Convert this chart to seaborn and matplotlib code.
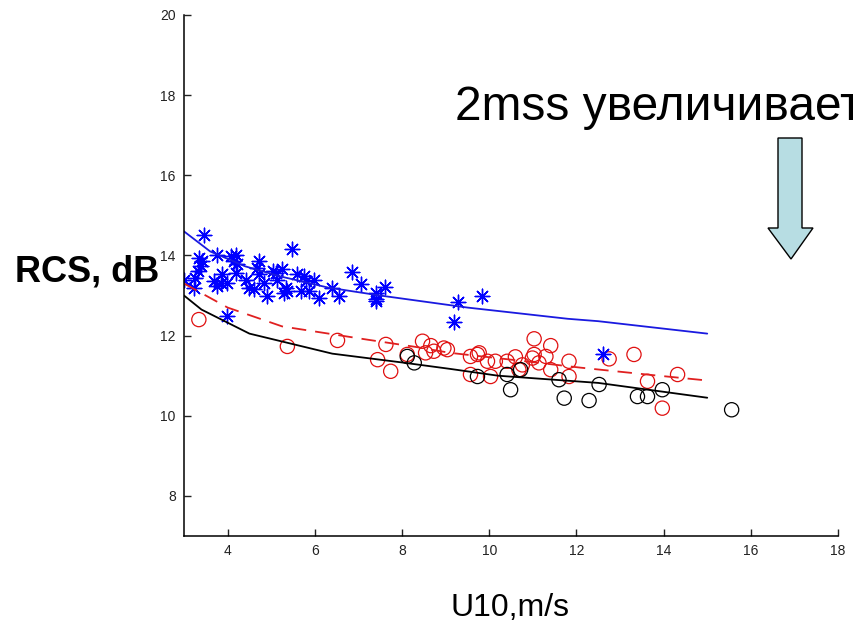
import numpy as np
import pandas as pd
import seaborn as sns
import matplotlib.pyplot as plt
from matplotlib.patches import Polygon

# blue stars (*)
star_x = [3.46, 3.34, 3.42, 3.38, 3.31, 3.25, 3.0, 3.23, 3.76, 4.07, 4.19, 4.15, 4.22, 4.19,
          3.88, 3.69, 3.84, 3.99, 3.76, 4.41, 4.49, 4.6, 4.72, 4.68, 4.72, 4.83, 4.91, 5.03,
          5.1, 5.25, 5.14, 5.33, 5.37, 5.29, 5.48, 5.6, 5.75, 5.79, 5.98, 5.68, 5.87, 6.1,
          6.4, 6.56, 6.86, 7.05, 7.4, 7.4, 7.4, 7.62, 9.29, 9.19, 9.84, 12.6, 3.99]
star_y = [14.5, 13.94, 13.86, 13.73, 13.6, 13.44, 13.4, 13.19, 14.0, 13.98, 14.0, 13.86, 13.78,
          13.57, 13.53, 13.36, 13.32, 13.32, 13.23, 13.4, 13.19, 13.17, 13.86, 13.69, 13.53,
          13.32, 12.98, 13.61, 13.57, 13.65, 13.4, 13.19, 13.11, 13.07, 14.15, 13.53, 13.48,
          13.36, 13.4, 13.11, 13.11, 12.94, 13.19, 12.98, 13.58, 13.28, 12.92, 13.07, 12.86,
          13.22, 12.83, 12.33, 12.98, 11.53, 12.48]

# red circles
red_x = [3.34, 5.37, 6.52, 7.63, 7.44, 7.74, 8.12, 8.47, 8.66, 8.54, 8.73, 8.96, 9.04, 9.57,
         9.73, 9.57, 10.03, 10.14, 11.03, 11.41, 10.6, 10.99, 11.3, 11.14, 11.83, 11.41, 11.83,
         9.77, 9.96, 10.41, 10.68, 10.76, 11.03, 12.75, 13.32, 13.63, 14.32, 13.97]
red_y = [12.4, 11.73, 11.88, 11.78, 11.4, 11.11, 11.53, 11.86, 11.75, 11.57, 11.61, 11.69,
         11.65, 11.48, 11.53, 11.03, 10.98, 11.36, 11.92, 11.75, 11.47, 11.44, 11.48, 11.32,
         11.36, 11.15, 10.98, 11.57, 11.36, 11.36, 11.15, 11.27, 11.53, 11.42, 11.53, 10.86,
         11.03, 10.19]

# black circles
blk_x = [8.12, 8.28, 9.73, 10.49, 10.41, 10.72, 11.6, 11.72, 12.29, 12.52, 13.4, 13.63, 13.97, 15.56]
blk_y = [11.48, 11.32, 10.98, 10.65, 11.03, 11.15, 10.9, 10.44, 10.38, 10.78, 10.48, 10.48, 10.65, 10.15]

# fitted curves
blue_fx = [3.0, 3.6, 4.4, 5.2, 6.3, 7.5, 9.5, 11.8, 12.5, 15.0]
blue_fy = [14.6, 14.1, 13.73, 13.48, 13.2, 13.0, 12.7, 12.42, 12.36, 12.05]
red_fx = [3.0, 4.0, 5.25, 7.2, 8.3, 9.1, 10.5, 12.1, 13.7, 15.0]
red_fy = [13.3, 12.7, 12.23, 11.9, 11.72, 11.57, 11.4, 11.2, 11.02, 10.88]
blk_fx = [3.0, 3.4, 4.5, 6.4, 8.0, 9.1, 10.2, 12.5, 15.0]
blk_fy = [13.0, 12.65, 12.05, 11.55, 11.33, 11.17, 11.0, 10.82, 10.45]

x_ticks = [4, 6, 8, 10, 12, 14, 16, 18]
y_ticks = [8, 10, 12, 14, 16, 18, 20]

sns.set_style("ticks")
plt.rcParams['font.family'] = ['Liberation Sans', 'DejaVu Sans']
plt.rcParams['text.color'] = 'black'

fig = plt.figure(figsize=(8.54, 6.25), dpi=100)
ax = fig.add_axes([0.2155, 0.1424, 0.9813 - 0.2155, 0.976 - 0.1424])

sns.lineplot(x=blue_fx, y=blue_fy, color="#1a1ae0", lw=1.3, ax=ax, estimator=None, sort=False)
sns.lineplot(x=red_fx, y=red_fy, color="#e02020", lw=1.3, ax=ax, estimator=None, sort=False,
             linestyle=(0, (8, 5)))
sns.lineplot(x=blk_fx, y=blk_fy, color="black", lw=1.3, ax=ax, estimator=None, sort=False)

sns.scatterplot(x=red_x, y=red_y, marker="o", s=105, facecolors="none", edgecolor="#e01010",
                linewidth=0.9, ax=ax)
sns.scatterplot(x=blk_x, y=blk_y, marker="o", s=105, facecolors="none", edgecolor="black",
                linewidth=0.9, ax=ax)
sns.scatterplot(x=star_x, y=star_y, marker=(8, 2, 0), s=110, color="#0000ff",
                linewidth=1.0, ax=ax)

ax.set_xlim(3, 18)
ax.set_ylim(7, 20)
ax.set_xticks(x_ticks)
ax.set_yticks(y_ticks)
ax.tick_params(direction="in", length=5, width=1, labelsize=10, colors="#222222", pad=6)
for s in ["top", "right"]:
    ax.spines[s].set_visible(False)
for s in ["left", "bottom"]:
    ax.spines[s].set_linewidth(1.1)
    ax.spines[s].set_color("black")

fig.text(0.0176, 0.565, "RCS, dB", fontsize=26, fontweight="bold", va="center", ha="left",
         color="black")
fig.text(455 / 854, 1 - 120 / 625, "2mss увеличивает", fontsize=34.5, va="baseline", ha="left",
         color="black")
fig.text(510 / 854, 1 - 616 / 625, "U10,m/s", fontsize=23, va="baseline", ha="center",
         color="black")

# down arrow
arrow_px = [(778, 138), (802, 138), (802, 228), (813, 228), (791, 259), (768, 228), (778, 228)]
arrow = Polygon([(px / 854, 1 - py / 625) for px, py in arrow_px], closed=True,
                facecolor="#b7dde3", edgecolor="black", lw=1.0, transform=fig.transFigure)
fig.patches.append(arrow)

fig.savefig("out.png", dpi=100)
